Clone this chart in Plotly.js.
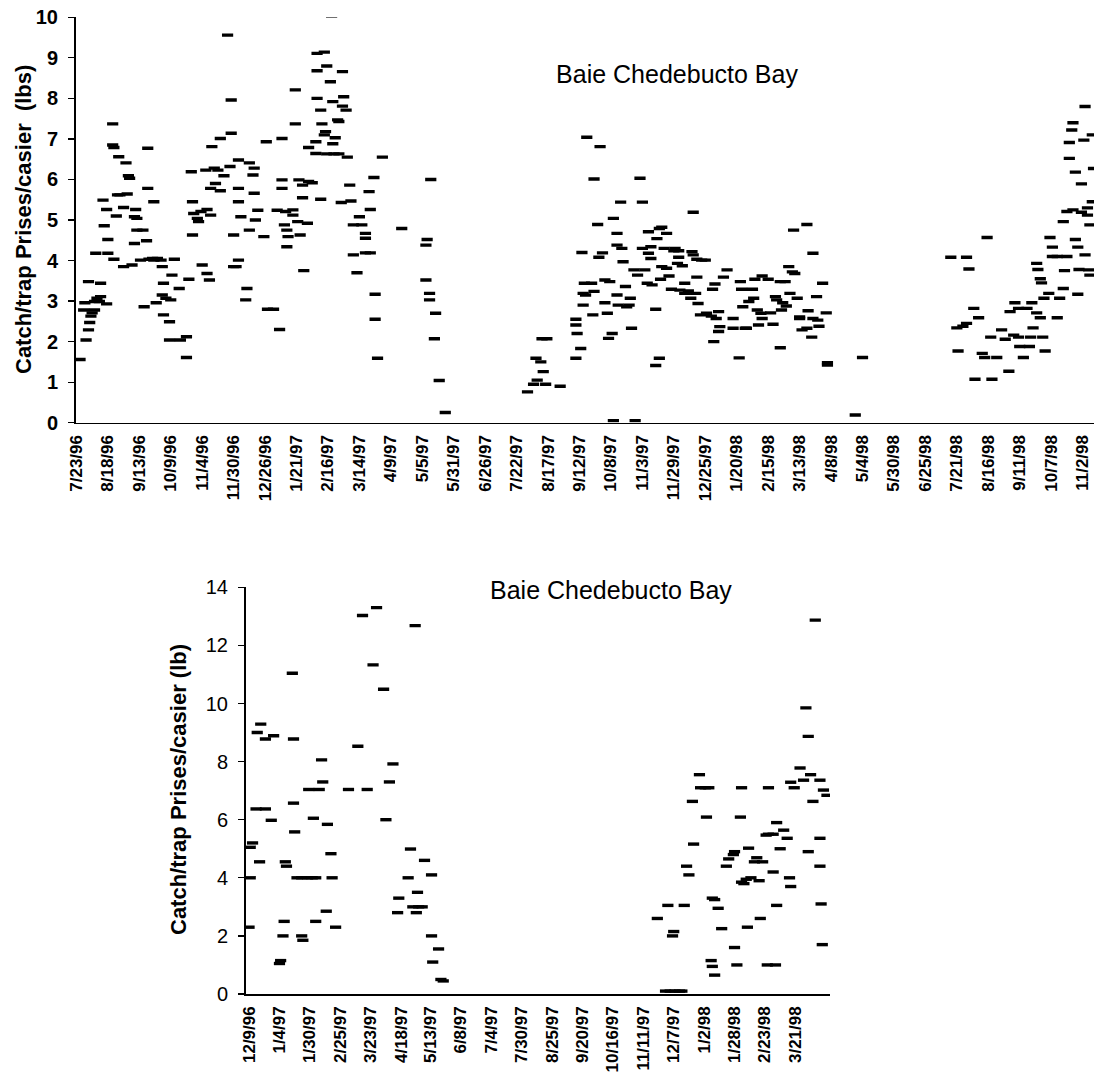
<!DOCTYPE html>
<html><head><meta charset="utf-8">
<script src="https://cdn.plot.ly/plotly-3.0.1.min.js"></script>
<style>html,body{margin:0;padding:0;background:#fff}#chart{width:1094px;height:1076px}</style>
</head><body><div id="chart"></div>
<script>
// ---------- Top chart (7/23/96 - 11/98) ----------
const topStart = '7/23/96';
const topTickLabels = ['7/23/96','8/18/96','9/13/96','10/9/96','11/4/96','11/30/96','12/26/96','1/21/97','2/16/97','3/14/97','4/9/97','5/5/97','5/31/97','6/26/97','7/22/97','8/17/97','9/12/97','10/8/97','11/3/97','11/29/97','12/25/97','1/20/98','2/15/98','3/13/98','4/8/98','5/4/98','5/30/98','6/25/98','7/21/98','8/16/98','9/11/98','10/7/98','11/2/98'];
// days since topStart
const topDays = [
3,8,10,11,6,7,10,13,15,12, 15,17,19,20,16,20,22,23,25,26, 26,25,30,30,31,33,31,34,36,35,
41,39,42,44,43,39,46,48,49,50, 50,55,48,56,58,53,59,59,60,63, 64,64,67,66,70,71,72,71,74,72,
77,77,78,79,81,85,86,91,91,93, 95,96,96,97,100,101,103,104,107,108, 108,110,111,111,112,114,115,117,119,122,
119,125,128,128,127,130,130,132,134,134, 134,134,136,140,141,143,143,146,147,147, 150,148,155,157,158,163,168,170,170,170,
166,173,172,174,175,174,
181,181,184,187,192,195,187,179,179,183, 191,185,188,199,205,199,207,210,211,199, 202,203,206,205,212,220,221,220,223,216,
217,214,212,198,192,198,207,213,217,224, 202,219,227,226,229,236,234,239,239,243, 242,246,253,229,239,243,232,247,247,249,
269,293,290,289,289,292,292,297,296,300, 305,385,389,380,384,386,381,378,388,373, 400,
413,417,414,413,413,419,419,421,420,426, 418,422,428,433,431,428,427,435,432,437, 437,439,440,443,441,444,447,448,447,447,
451,452,454,450,455,457,459,458,461,464, 466,468,468,470,473,473,472,475,476,475, 479,479,482,480,482,483,484,484,488,486,
488,490,492,495,494,498,498,497,501,503, 499,503,508,506,509,510,513,517,520,510, 513,512,516,514,521,526,528,525,529,531,
532,531,527,535,538,543,543,548,549,550, 551,553,554,556,559,560,561,563,564,566, 567,567,572,574,576,578,579,582,582,583,
584,586,587,589,590,592,593,594,596,598, 598,600,604,604,605,609,609,608,612,613, 614,617,620,621,621,444,462,
644,650,723,736,738,753,729,728,733,736, 742,746,743,749,751,756,757,761,765,768, 771,772,776,779,775,779,780,783,786,788,
789,790,791,794,794,795,797,798,797,799, 801,800,804,805,807,807,811,811,813,816, 816,817,819,819,821,821,823,824,826,824,
826,828,828,829,831,833,834,831,834,836, 836,838,838,837,840,840,841
];
// Catch/trap (lbs)
const topCatch = [
1.56,2.04,2.29,2.47,2.78,2.96,3.48,2.71,2.78,2.63, 2.99,3.07,2.99,3.11,4.18,3.44,5.49,4.86,5.26,4.52, 4.18,2.93,7.37,6.85,6.79,5.10,4.03,5.62,5.62,6.56,
6.41,5.31,5.64,6.03,6.09,3.85,3.89,4.42,5.26,5.04, 4.75,4.75,5.08,2.86,4.49,4.01,6.77,5.78,4.03,4.05, 5.45,4.01,4.05,2.96,4.01,3.85,3.44,3.15,3.07,2.66,
2.49,2.04,3.03,3.64,4.03,3.31,2.04,2.12,1.61,3.54, 6.19,5.45,4.63,5.16,5.04,4.96,5.21,3.89,6.23,5.26, 3.68,3.52,5.12,5.78,6.81,6.28,5.90,6.23,5.72,6.09,
7.01,9.56,7.96,7.14,6.32,3.85,4.63,3.85,4.01,6.48, 5.78,5.45,5.08,3.03,3.31,4.75,6.41,6.11,6.28,5.66, 5.24,5.00,4.59,6.93,2.80,2.80,2.30,7.01,5.99,5.78,
5.24,5.21,4.88,4.75,4.59,4.34,
8.21,7.37,5.99,5.86,5.95,5.92,5.55,5.25,5.12,4.96, 4.92,4.63,3.75,9.11,9.14,8.68,8.80,8.41,10.03,8.00, 7.71,7.37,7.18,7.10,7.92,8.66,8.04,7.81,7.71,7.47,
7.43,7.03,6.88,6.93,6.79,6.64,6.63,6.63,6.63,6.55, 5.51,5.43,5.47,5.86,4.88,4.88,5.08,4.67,4.55,5.26, 5.70,6.05,6.55,4.14,4.19,4.19,3.70,3.17,2.55,1.59,
4.79,6.00,4.52,4.38,3.52,3.19,3.03,2.70,2.07,1.04, 0.25,2.07,2.07,1.59,1.50,1.26,1.05,0.95,0.95,0.76, 0.90,
1.59,1.83,2.20,2.41,2.55,2.90,3.19,3.15,3.44,3.44, 4.20,7.04,6.01,6.81,4.89,3.24,2.66,4.19,4.08,3.52, 2.96,2.70,2.08,2.20,3.48,5.04,3.15,2.90,4.67,4.38,
4.30,3.97,3.36,5.44,2.86,2.90,2.33,3.07,3.77,3.64, 6.03,5.44,4.30,3.77,4.71,4.18,3.44,4.05,3.40,4.34, 2.80,1.41,1.59,4.54,4.79,3.54,3.85,4.82,4.67,4.30,
3.81,3.62,3.29,4.30,4.24,4.24,4.08,3.93,3.87,3.44, 3.27,3.19,3.07,3.25,4.22,4.14,4.03,4.01,4.01,5.19, 3.59,3.19,2.66,2.94,2.70,3.29,3.42,2.63,2.57,2.74,
2.37,2.25,2.00,3.59,3.77,2.57,2.33,1.60,3.48,3.29, 2.86,2.33,2.33,2.99,3.29,3.07,3.54,2.78,2.41,2.70, 3.62,2.57,3.54,2.71,2.43,3.11,3.03,1.85,3.48,2.78,
2.96,3.48,2.88,3.85,3.19,3.72,4.75,3.68,3.07,2.57, 2.61,2.29,2.33,4.89,2.76,2.57,4.18,2.11,3.11,2.53, 2.38,3.44,2.71,1.48,1.42,0.05,0.05,
0.19,1.61,4.08,4.08,3.79,4.57,1.77,2.34,2.38,2.45, 2.82,2.59,1.07,1.71,1.61,2.11,1.07,1.61,2.29,2.06, 1.27,2.74,2.96,2.82,2.16,2.11,1.88,1.61,2.82,1.88,
2.11,2.96,2.34,2.71,3.93,3.78,3.55,3.45,2.59,2.11, 1.77,3.07,3.19,4.57,4.33,4.10,4.10,2.59,3.07,3.31, 4.96,3.75,4.10,5.21,6.52,6.91,7.22,7.40,6.18,5.25,
4.52,4.33,3.17,3.78,5.89,6.97,7.80,5.19,4.14,5.30, 5.12,4.88,3.64,3.77,7.10,5.45,6.27
];

// ---------- Bottom chart (12/9/96 - 4/98) ----------
const botStart = '12/9/96';
const botTickLabels = ['12/9/96','1/4/97','1/30/97','2/25/97','3/23/97','4/18/97','5/13/97','6/8/97','7/4/97','7/30/97','8/25/97','9/20/97','10/16/97','11/11/97','12/7/97','1/2/98','1/28/98','2/23/98','3/21/98'];
const botDays = [
0,1,1,3,7,10,14,21,6,14, 19,9,26,27,29,30,31,32,37,38, 38,39,41,45,50,54,57,45,46,51,
55,57,60,62,63,67,66,70,71,74, 85,93,97,101,106,109,115,117,120,123, 127,128,136,138,140,142,143,144,145,148,
150,156,156,157,162,164,166,
349,356,360,364,368,370,358,362,363,372, 374,376,379,380,385,386,390,393,391,395, 396,398,396,398,401,404,408,410,414,415,
415,417,420,421,421,423,425,426,427,429, 432,434,436,437,439,442,444,448,444,443, 450,448,451,451,454,457,460,462,463,463,
466,471,474,476,478,478,480,482,484,488, 488,488,489,490,491,494
];
// Catch/trap (lb)
const botCatch = [
2.3,4.0,5.05,5.2,9.0,9.29,8.78,8.89,6.37,6.37, 5.98,4.55,1.05,1.15,2.0,2.5,4.55,4.4,11.04,8.78, 6.57,5.58,4.0,4.0,4.0,4.0,4.0,2.0,1.85,7.04,
6.05,2.5,7.04,8.06,7.3,5.84,2.85,4.83,4.0,2.3, 7.04,8.53,13.03,7.04,11.33,13.3,10.49,6.0,7.3,7.92, 2.8,3.3,4.0,4.99,3.0,12.68,2.8,3.5,3.0,3.0,
4.6,4.1,2.0,1.1,1.55,0.5,0.45,
2.6,0.1,0.1,0.1,0.1,0.1,3.05,2.0,2.15,3.05, 4.4,4.1,6.63,5.16,7.55,7.1,7.1,7.1,6.09,1.15, 0.95,0.65,3.3,3.25,2.95,2.25,4.4,4.65,4.8,4.9,
1.6,1.0,6.09,7.1,3.85,3.8,3.95,2.3,5.02,4.0, 4.55,4.69,3.9,2.6,4.55,5.47,5.5,5.5,7.1,1.0, 1.0,4.2,5.9,3.05,5.0,5.64,5.36,4.0,3.7,7.29,
7.1,7.78,7.36,9.85,8.87,4.9,7.55,6.63,12.87,5.36, 4.4,7.36,3.1,1.7,7.02,6.84
];

const chartTitle = 'Baie Chedebucto Bay';
const topYTitle = 'Catch/trap Prises/casier  (lbs)';
const botYTitle = 'Catch/trap Prises/casier (lb)';

// ---------- helpers ----------
const DAY = 86400000;
function parseMDY(s){ const p = s.split('/').map(Number); return Date.UTC(1900 + p[2], p[0] - 1, p[1]); }
function iso(ms){ return new Date(ms).toISOString().replace('T',' ').slice(0,19); }
const t0 = parseMDY(topStart), b0 = parseMDY(botStart);
const topX = topDays.map(d => iso(t0 + d * DAY));
const botX = botDays.map(d => iso(b0 + d * DAY));

const FONT = 'Liberation Sans, Arial, Helvetica, sans-serif';
const marker = {symbol: 'line-ew', size: 8, color: '#000', line: {width: 3.4, color: '#000'}};

const traces = [
  {x: topX, y: topCatch, type: 'scatter', mode: 'markers', marker: marker, xaxis: 'x', yaxis: 'y', hoverinfo: 'none', showlegend: false},
  {x: botX, y: botCatch, type: 'scatter', mode: 'markers', marker: marker, xaxis: 'x2', yaxis: 'y2', hoverinfo: 'none', showlegend: false}
];

const W = 1094, H = 1076;
const xCommon = {type: 'date', showgrid: false, zeroline: false, showline: true, linecolor: '#000', linewidth: 1.5,
  ticks: '', tickangle: -90, tickfont: {family: FONT, size: 17, color: '#000', weight: 'bold'}, automargin: false, ticklabelstandoff: 4};
const yCommon = {showgrid: false, zeroline: false, showline: true, linecolor: '#000', linewidth: 2,
  ticks: 'outside', ticklen: 6, tickwidth: 1.2, tickcolor: '#000', automargin: false, ticklabelstandoff: 6};

const layout = {
  width: W, height: H,
  margin: {l: 0, r: 0, t: 0, b: 0},
  paper_bgcolor: '#fff', plot_bgcolor: '#fff',
  font: {family: FONT, color: '#000'},
  showlegend: false,
  title: {text: chartTitle, x: 677 / W, xanchor: 'center', xref: 'container', y: 1 - 74 / H, yanchor: 'middle', yref: 'container',
          font: {family: FONT, size: 25, color: '#000'}},
  xaxis: Object.assign({}, xCommon, {domain: [76 / W, 1], anchor: 'y',
    range: [iso(t0 - 0.33 * DAY), iso(t0 + 841.4 * DAY)],
    tickvals: topTickLabels.map(s => iso(parseMDY(s))), ticktext: topTickLabels}),
  yaxis: Object.assign({}, yCommon, {domain: [1 - 422.7 / H, 1 - 17.3 / H], anchor: 'x', range: [0, 10], dtick: 1, tick0: 0,
    tickfont: {family: FONT, size: 20, color: '#000', weight: 'bold'}}),
  xaxis2: Object.assign({}, xCommon, {domain: [246 / W, 830 / W], anchor: 'y2',
    range: [iso(b0 - 2.6 * DAY), iso(b0 + 496.6 * DAY)],
    tickvals: botTickLabels.map(s => iso(parseMDY(s))), ticktext: botTickLabels}),
  yaxis2: Object.assign({}, yCommon, {domain: [1 - 994 / H, 1 - 587.3 / H], anchor: 'x2', range: [0, 14], dtick: 2, tick0: 0,
    tickfont: {family: FONT, size: 20, color: '#000'}}),
  annotations: [
    {text: topYTitle, xref: 'paper', yref: 'paper', x: 23 / W, y: 1 - 220 / H, xanchor: 'center', yanchor: 'middle',
     textangle: -90, showarrow: false, font: {family: FONT, size: 22, color: '#000', weight: 'bold'}},
    {text: botYTitle, xref: 'paper', yref: 'paper', x: 178 / W, y: 1 - 790 / H, xanchor: 'center', yanchor: 'middle',
     textangle: -90, showarrow: false, font: {family: FONT, size: 22, color: '#000', weight: 'bold'}},
    {text: chartTitle, xref: 'paper', yref: 'paper', x: 611 / W, y: 1 - 590 / H, xanchor: 'center', yanchor: 'middle',
     showarrow: false, font: {family: FONT, size: 25, color: '#000'}}
  ]
};

Plotly.newPlot('chart', traces, layout, {staticPlot: true, displayModeBar: false});
</script>
</body></html>
